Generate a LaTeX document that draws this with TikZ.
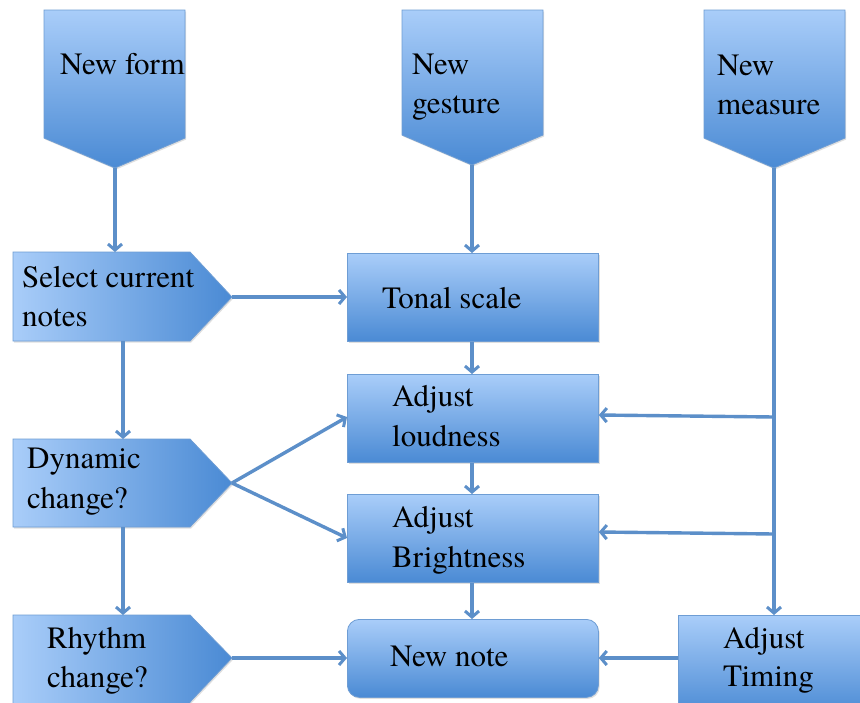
\documentclass[tikz,border=0pt]{standalone}
\usepackage{fontspec}
\IfFontExistsTF{texgyretermes-regular.otf}
  {\setmainfont{texgyretermes-regular.otf}}
  {}
\usetikzlibrary{arrows.meta,shadows}
\definecolor{boxtop}{HTML}{A9CDF9}
\definecolor{boxbot}{HTML}{4A8AD4}
\definecolor{boxline}{HTML}{6E9DD4}
\definecolor{arrowcol}{HTML}{5C8FC9}
\tikzset{
  vshade/.style={top color=boxtop, bottom color=boxbot, draw=boxline, line width=0.8pt,
    drop shadow={opacity=0.25, shadow xshift=1.2pt, shadow yshift=-1.5pt}},
  hshade/.style={left color=boxtop, right color=boxbot, draw=boxline, line width=0.8pt,
    drop shadow={opacity=0.25, shadow xshift=1.2pt, shadow yshift=-1.5pt}},
  rbox/.style={vshade, rectangle, inner sep=0pt, minimum width=251pt, minimum height=88pt, anchor=north west},
  txt/.style={font=\rmfamily\fontsize{31}{39}\selectfont, anchor=base west, inner sep=0pt, text=black},
  arr/.style={draw=arrowcol, line width=3.4pt, -{Straight Barb[length=6pt,width=14pt,line width=3pt]}},
}
\begin{document}
\begin{tikzpicture}[x=1pt, y=-1pt]
\useasboundingbox (0,0) rectangle (860,702);
\clip (0,0) rectangle (860,702);
\fill[white] (0,0) rectangle (860,702);

% top pentagons
\path[vshade] (44,10) -- (185,10) -- (185,138) -- (115,168) -- (44,138) -- cycle;
\coordinate (formtip) at (115,168);
\path[vshade] (402,10) -- (543,10) -- (543,135) -- (472,165) -- (402,135) -- cycle;
\coordinate (gesturetip) at (472,165);
\path[vshade] (704,10) -- (845,10) -- (845,138) -- (774,168) -- (704,138) -- cycle;
\coordinate (measuretip) at (774,168);

% left pentagons
\path[hshade] (13,252) -- (190,252) -- (232,297) -- (190,341) -- (13,341) -- cycle;
\coordinate (selecttip) at (232,297);
\coordinate (selecttop) at (115,252);
\coordinate (selectbot) at (123,341);
\path[hshade] (13,439) -- (190,439) -- (232,483) -- (190,527) -- (13,527) -- cycle;
\coordinate (dyntip) at (232,483);
\coordinate (dyntop) at (123,439);
\coordinate (dynbot) at (123,527);
\path[hshade] (13,615) -- (190,615) -- (232,658) -- (190,702) -- (190,720) -- (13,720) -- cycle;
\coordinate (rhytip) at (232,658);
\coordinate (rhytop) at (123,615);

% center boxes
\node[rbox] (tonal) at (347,253) {};
\node[rbox] (loud) at (347,374) {};
\node[rbox] (bright) at (347,494) {};
\node[rbox, rounded corners=12pt, minimum height=78pt] (newnote) at (347,619) {};
\node[rbox, minimum width=200pt, minimum height=100pt] (timing) at (678,615) {};

% texts
\node[txt] at (60,74) {New form};
\node[txt] at (412,74) {New};
\node[txt] at (412,113) {gesture};
\node[txt] at (717,75) {New};
\node[txt] at (717,114) {measure};
\node[txt] at (22,287) {Select current};
\node[txt] at (22,326) {notes};
\node[txt] at (27,468) {Dynamic};
\node[txt] at (27,508) {change?};
\node[txt] at (47,648) {Rhythm};
\node[txt] at (47,687) {change?};
\node[txt] at (382,308) {Tonal scale};
\node[txt] at (392,406) {Adjust};
\node[txt] at (392,446) {loudness};
\node[txt] at (392,527) {Adjust};
\node[txt] at (392,567) {Brightness};
\node[txt] at (390,666) {New note};
\node[txt] at (723,648) {Adjust};
\node[txt] at (723,686) {Timing};

% connectors
\draw[arr] (formtip) -- (selecttop);
\draw[arr] (gesturetip) -- (tonal.north -| gesturetip);
\draw[arr] (measuretip) -- (measuretip |- timing.north);
\draw[arr] (selecttip) -- (tonal.west |- selecttip);
\draw[arr] (selectbot) -- (dyntop);
\draw[arr] (dyntip) -- (347,417);
\draw[arr] (dyntip) -- (347,538);
\draw[arr] (dynbot) -- (rhytop);
\draw[arr] (rhytip) -- (newnote.west |- rhytip);
\draw[arr] (tonal.south -| gesturetip) -- (loud.north -| gesturetip);
\draw[arr] (loud.south -| gesturetip) -- (bright.north -| gesturetip);
\draw[arr] (bright.south -| gesturetip) -- (newnote.north -| gesturetip);
\coordinate (m1) at (774,417);
\coordinate (m2) at (774,534);
\draw[arr] (m1) -- (loud.east |- 0,415);
\draw[arr] (m2) -- (bright.east |- 0,532);
\draw[arr] (timing.west |- 0,658) -- (newnote.east |- 0,658);
\end{tikzpicture}
\end{document}
